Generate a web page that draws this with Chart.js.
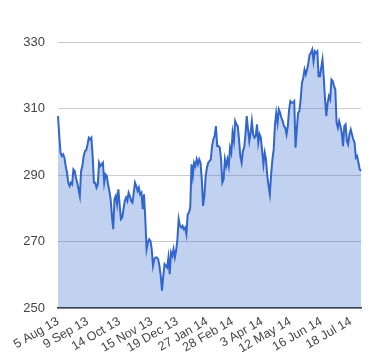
<!DOCTYPE html>
<html>
<head>
<meta charset="utf-8">
<script src="https://cdn.jsdelivr.net/npm/chart.js@4"></script>
<style>
html,body{margin:0;padding:0;background:#fff;}
#c{display:block;}
</style>
</head>
<body>
<canvas id="c" width="380" height="360"></canvas>
<script>
const values = [
307.7,301.7,296.7,295.7,296.2,295.2,292.7,290.7,287.7,286.7,
287.7,287.2,291.7,291.2,289.2,287.7,285.7,283.7,291.2,292.7,
295.7,297.2,297.5,299.2,301.2,300.7,301.2,295.7,287.7,287.7,
286.2,287.2,293.7,292.7,293.2,293.7,287.7,290.2,289.7,287.2,
285.2,282.7,277.7,273.7,282.7,283.7,281.2,285.7,281.2,276.7,
277.2,279.7,282.2,283.2,282.2,284.7,283.7,282.2,281.7,284.7,
287.7,286.7,285.2,286.2,284.2,284.7,279.7,284.2,276.7,267.7,
269.7,270.7,270.2,267.7,262.7,264.7,265.2,265.2,264.7,262.7,
259.7,255.2,259.7,263.2,262.7,262.2,265.2,260.2,266.7,265.7,
267.7,265.2,267.2,270.7,276.7,274.7,274.2,274.7,273.7,274.2,
272.2,278.2,278.7,280.2,293.2,289.7,293.7,292.7,294.7,293.2,
294.7,293.7,288.7,280.7,283.7,289.7,292.2,293.7,294.2,294.7,
298.7,300.7,301.7,304.7,298.7,298.7,298.2,294.7,287.7,288.7,
294.7,292.7,294.7,292.7,298.2,296.7,302.7,300.2,306.2,305.2,
304.7,300.7,295.7,293.7,297.2,298.2,302.2,307.7,303.7,300.2,
302.7,306.2,302.2,301.2,301.7,305.2,299.7,302.2,301.2,297.2,
293.2,296.7,294.7,289.7,286.7,284.2,290.2,294.7,297.7,305.2,
308.7,305.7,309.7,308.7,307.2,306.2,304.7,304.2,302.2,304.7,
309.7,312.2,311.7,311.7,312.2,298.2,303.7,308.7,309.2,312.7,
317.7,319.2,321.7,320.2,321.7,323.7,326.2,326.7,327.7,324.2,
327.2,326.7,327.2,319.7,319.7,322.2,324.7,319.2,312.7,307.7,
311.7,313.7,312.7,318.7,318.2,316.7,315.7,305.7,304.2,306.2,
304.7,302.7,298.7,304.7,305.2,300.2,299.2,302.2,303.7,302.2,
300.7,299.7,295.2,295.7,293.7,291.7,291.2
];
const tickLabels = ['5 Aug 13','9 Sep 13','14 Oct 13','15 Nov 13','19 Dec 13','27 Jan 14','28 Feb 14','3 Apr 14','12 May 14','16 Jun 14','18 Jul 14'];
const tickAt = [0, 23, 48, 73, 93, 116, 136, 159, 181, 205, 228];
const yTicks = [250, 270, 290, 310, 330];

const categories = values.map((_, i) => {
  const k = tickAt.indexOf(i);
  return k >= 0 ? tickLabels[k] : '';
});

const FONT = '"Liberation Sans", Arial, sans-serif';

new Chart(document.getElementById('c'), {
  type: 'line',
  data: {
    labels: categories,
    datasets: [{
      data: values,
      borderColor: '#3366cc',
      backgroundColor: 'rgba(51,102,204,0.3)',
      borderWidth: 2,
      pointRadius: 0,
      tension: 0,
      fill: 'start'
    }]
  },
  options: {
    responsive: false,
    devicePixelRatio: 1,
    animation: false,
    layout: { padding: { left: 0, right: 19, top: 42, bottom: 0 } },
    plugins: { legend: { display: false }, tooltip: { enabled: false } },
    scales: {
      x: {
        type: 'category',
        offset: false,
        grid: { display: false, drawTicks: false },
        border: { display: true, color: '#333', width: 1.5 },
        ticks: {
          autoSkip: false,
          minRotation: 30,
          maxRotation: 30,
          padding: 6,
          color: '#444',
          font: { family: FONT, size: 12.5 },
          callback: (v, i) => categories[i] ? categories[i] : null
        },
        afterFit: s => { s.height = 52; }
      },
      y: {
        min: 250,
        max: 330,
        afterBuildTicks: a => { a.ticks = yTicks.map(v => ({ value: v })); },
        grid: { color: '#cccccc', drawTicks: false, lineWidth: 1 },
        border: { display: false },
        ticks: {
          padding: 13,
          color: '#444',
          font: { family: FONT, size: 13 }
        },
        afterFit: s => { s.width = 58; }
      }
    }
  }
});
</script>
</body>
</html>
